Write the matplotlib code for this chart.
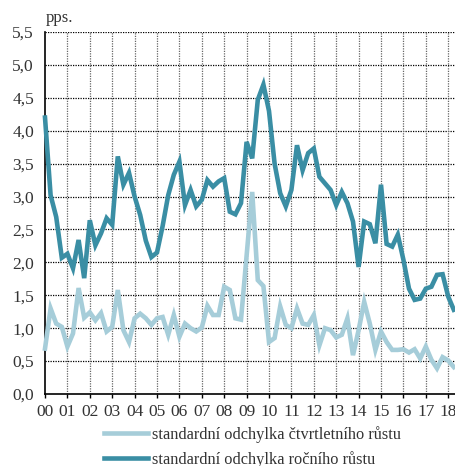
import numpy as np
import matplotlib
matplotlib.use("Agg")
import matplotlib.pyplot as plt

start_year = 2000
year_labels = ["00", "01", "02", "03", "04", "05", "06", "07", "08", "09",
               "10", "11", "12", "13", "14", "15", "16", "17", "18"]
y_ticks = [0.0, 0.5, 1.0, 1.5, 2.0, 2.5, 3.0, 3.5, 4.0, 4.5, 5.0, 5.5]

quarterly_sd = [0.69, 1.30, 1.07, 1.02, 0.72, 0.92, 1.61, 1.16, 1.24, 1.12,
                1.23, 0.95, 1.02, 1.58, 0.97, 0.79, 1.15, 1.22, 1.15, 1.05,
                1.15, 1.17, 0.90, 1.20, 0.87, 1.07, 1.00, 0.95, 1.01, 1.34,
                1.20, 1.20, 1.63, 1.58, 1.15, 1.13, 2.10, 3.07, 1.73, 1.64,
                0.79, 0.85, 1.33, 1.05, 1.00, 1.30, 1.07, 1.05, 1.20, 0.74,
                1.00, 0.97, 0.86, 0.90, 1.15, 0.59, 0.97, 1.40, 1.07, 0.67,
                0.95, 0.79, 0.67, 0.67, 0.68, 0.63, 0.68, 0.54, 0.72, 0.52,
                0.39, 0.56, 0.51, 0.41]

annual_sd = [4.20, 3.02, 2.69, 2.07, 2.13, 1.91, 2.34, 1.76, 2.64, 2.26,
             2.44, 2.67, 2.57, 3.61, 3.18, 3.36, 3.00, 2.72, 2.33, 2.08,
             2.15, 2.55, 3.02, 3.33, 3.53, 2.87, 3.10, 2.85, 2.95, 3.25,
             3.15, 3.23, 3.28, 2.77, 2.73, 2.90, 3.83, 3.58, 4.47, 4.70,
             4.30, 3.50, 3.05, 2.85, 3.10, 3.78, 3.40, 3.66, 3.73, 3.30,
             3.20, 3.10, 2.87, 3.07, 2.90, 2.62, 1.93, 2.62, 2.58, 2.29,
             3.18, 2.28, 2.24, 2.42, 2.04, 1.60, 1.43, 1.45, 1.60, 1.63,
             1.81, 1.82, 1.48, 1.28]

labels = ["standardní odchylka čtvrtletního růstu",
          "standardní odchylka ročního růstu"]

plt.rcParams['font.family'] = ['Liberation Serif', 'DejaVu Serif']

W, H = 455, 466
fig = plt.figure(figsize=(W / 100, H / 100), dpi=100)
ax = fig.add_axes([45 / W, (H - 394) / H, (W - 45) / W, (394 - 32) / H])

x = start_year + np.arange(len(annual_sd)) / 4.0
light_c = '#a6cdd9'
dark_c = '#3a8ea4'
l1, = ax.plot(x, quarterly_sd, color=light_c, lw=3.3, solid_joinstyle='miter', zorder=3, clip_on=False)
l2, = ax.plot(x, annual_sd, color=dark_c, lw=3.3, solid_joinstyle='miter', zorder=4, clip_on=False)

ax.set_xlim(start_year, start_year + 410 / 22.4)
ax.set_ylim(0, 5.5)
years = start_year + np.arange(len(year_labels))
ax.set_xticks(years)
ax.set_xticklabels(year_labels)
ax.set_yticks(y_ticks)
ax.set_yticklabels([f"{v:.1f}".replace('.', ',') for v in y_ticks])

for v in y_ticks[1:]:
    ax.axhline(v, color='black', lw=0.9, ls=(0, (1, 1)), zorder=1)
for yv in years[1:]:
    ax.axvline(yv, color='#666666', lw=0.9, ls=(0, (1, 1)), zorder=1)

for s in ['top', 'right']:
    ax.spines[s].set_visible(False)
ax.spines['left'].set_linewidth(1.2)
ax.spines['bottom'].set_linewidth(1.2)
ax.tick_params(axis='x', length=3, width=1, pad=4, labelsize=12.5, colors='black', labelcolor='#333333')
ax.tick_params(axis='y', length=0, pad=8, labelsize=12.5, labelcolor='#333333')

fig.text(46 / W, 1 - 18 / H, 'pps.', fontsize=12, color='#333333', va='center', ha='left')

fig.legend([l1, l2], labels, loc='upper left', bbox_to_anchor=(104 / W, 1 - 426 / H),
           frameon=False, fontsize=11.8, handlelength=2.7, handletextpad=0.2,
           labelspacing=0.5, borderpad=0, borderaxespad=0, labelcolor='#333333')

fig.savefig('out.png', dpi=100)
